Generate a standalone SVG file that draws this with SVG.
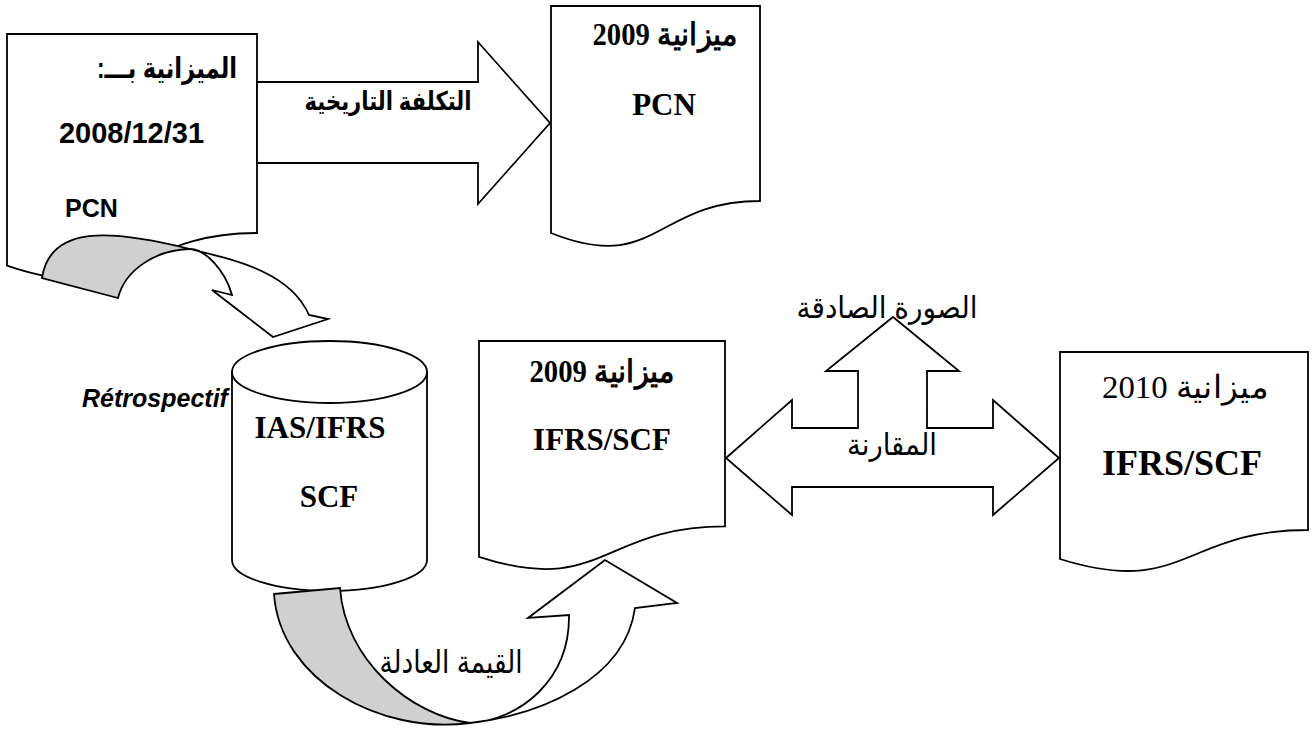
<svg xmlns="http://www.w3.org/2000/svg" width="1312" height="729" viewBox="0 0 1312 729">
<style>
.sh{fill:#fff;stroke:#000;stroke-width:1.8;stroke-linejoin:miter}
.gr{fill:#d0d0d0;stroke:#000;stroke-width:1.8}
.sb{font-family:'Liberation Sans','DejaVu Sans',sans-serif;font-weight:bold;fill:#000}
.sr{font-family:'Liberation Sans','DejaVu Sans',sans-serif;fill:#000}
.tb{font-family:'Liberation Serif','DejaVu Serif',serif;font-weight:bold;fill:#000}
.tr{font-family:'Liberation Serif','DejaVu Serif',serif;fill:#000}
text{text-anchor:middle}
</style>
<rect width="1312" height="729" fill="#fff"/>
<g id="doc-2008">
<path class="sh" d="M7,34 H257 V233 C132,233 132,308.7 7,265.6 Z"/>
<text class="sb" x="167" y="78" font-size="29" direction="rtl" textLength="140" lengthAdjust="spacingAndGlyphs">الميزانية بـــ:</text>
<text class="sb" x="131.5" y="143" font-size="29">2008/12/31</text>
<text class="sb" x="91.5" y="217" font-size="25">PCN</text>
</g>
<g id="doc-2009-pcn">
<path class="sh" d="M551,6 H760 V201 C655.5,201 655.5,275 551,233 Z"/>
<text class="tb" x="665" y="45" font-size="31" direction="rtl" textLength="145" lengthAdjust="spacingAndGlyphs">ميزانية 2009</text>
<text class="tb" x="664" y="115" font-size="31">PCN</text>
</g>
<g id="db-ias-ifrs">
<path class="sh" d="M232,372 L232,560 A97.5,31 0 0 0 427,560 L427,372 Z"/>
<ellipse class="sh" cx="329.5" cy="372" rx="97.5" ry="31"/>
<text class="tb" x="320" y="438" font-size="31">IAS/IFRS</text>
<text class="tb" x="329" y="507" font-size="31">SCF</text>
</g>
<g id="doc-2009-ifrs">
<path class="sh" d="M479,341 H725 V526.3 C602,526.3 602,596.8 479,556.8 Z"/>
<text class="tb" x="602" y="382" font-size="31" direction="rtl" textLength="145" lengthAdjust="spacingAndGlyphs">ميزانية 2009</text>
<text class="tb" x="602" y="450" font-size="31">IFRS/SCF</text>
</g>
<g id="doc-2010">
<path class="sh" d="M1060,352 H1308 V530 C1184,530 1184,598 1060,559 Z"/>
<text class="tr" x="1185" y="398" font-size="32" direction="rtl" textLength="166" lengthAdjust="spacingAndGlyphs">ميزانية 2010</text>
<text class="tb" x="1182" y="475" font-size="36">IFRS/SCF</text>
</g>
<g id="connectors">
<g id="arrow-historical-cost">
<path class="sh" d="M257,82 H478 V42 L550,123 L478,204 V163 H257 Z"/>
<text class="sb" x="388" y="110" font-size="26" direction="rtl" textLength="167" lengthAdjust="spacingAndGlyphs">التكلفة التاريخية</text>
</g>
<g id="arrow-retrospectif">
<path class="gr" d="M42,278 C50,225 110,229 190,249 C155,250 125,270 118,298 Z"/>
<path class="sh" d="M190,249 C235,260 290,272 309,315 L328,319 L273,337 L212,290 L232,295 C225,270 205,249 190,249 Z"/>
<text x="155" y="407" font-size="25" font-family="'Liberation Sans',sans-serif" font-weight="bold" font-style="italic">Rétrospectif</text>
</g>
<g id="arrow-fair-value">
<path class="gr" d="M274,594 L340,588 C345,660 410,715 470,723 C380,735 280,680 274,594 Z"/>
<path class="sh" d="M470,723 C540,715 625,680 635,608 L677,603 L605,560 L528,618 L569,615 C570,680 520,720 470,723 Z"/>
<text class="sr" x="451" y="673" font-size="32" direction="rtl" textLength="143" lengthAdjust="spacingAndGlyphs">القيمة العادلة</text>
</g>
<g id="arrow-comparison">
<path class="sh" d="M726,458 L792,400 V428 H858 V371 H826 L893,317 L959,371 H927 V428 H993 V400 L1059,458 L993,515 V487 H792 V515 Z"/>
<text class="sr" x="887" y="318" font-size="30" direction="rtl" textLength="181" lengthAdjust="spacingAndGlyphs">الصورة الصادقة</text>
<text class="sr" x="892" y="455" font-size="30" direction="rtl" textLength="90" lengthAdjust="spacingAndGlyphs">المقارنة</text>
</g>
</g>
</svg>
